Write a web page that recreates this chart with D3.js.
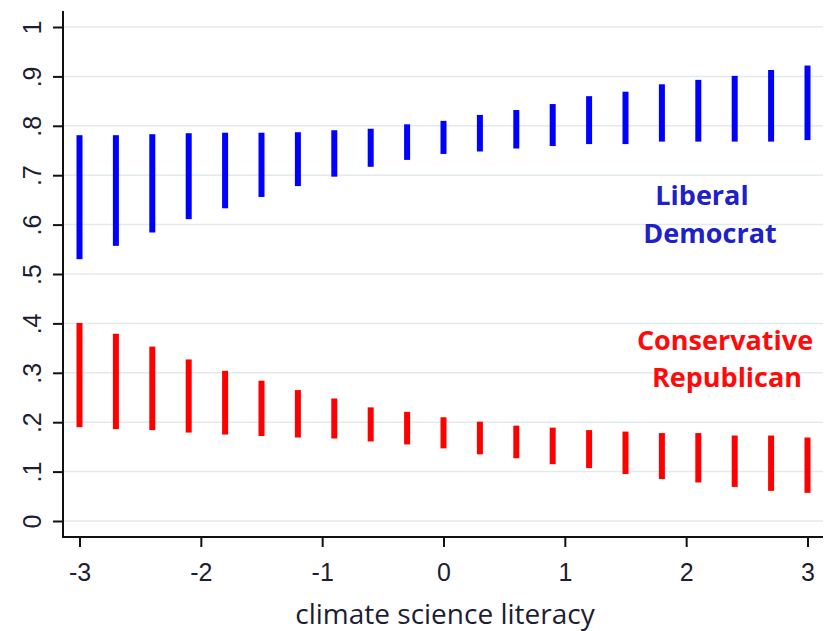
<!DOCTYPE html>
<html>
<head>
<meta charset="utf-8">
<script src="https://cdn.jsdelivr.net/npm/d3@7"></script>
<style>
  body { margin: 0; background: #fff; }
  svg { display: block; }
  .tick text { font-family: "Liberation Sans", Arial, sans-serif; font-size: 25px; fill: #1d1d33; }
</style>
</head>
<body>
<svg id="chart" width="829" height="631"></svg>
<script>
// literacy values, -3 to 3 in steps of .3
const literacy = [-3, -2.7, -2.4, -2.1, -1.8, -1.5, -1.2, -0.9, -0.6, -0.3, 0,
  0.3, 0.6, 0.9, 1.2, 1.5, 1.8, 2.1, 2.4, 2.7, 3];

// liberal democrat: lower / upper ends of each bar
const demLow = [0.530, 0.557, 0.584, 0.611, 0.633, 0.656, 0.678, 0.697, 0.717, 0.731, 0.743,
  0.748, 0.754, 0.759, 0.763, 0.763, 0.768, 0.768, 0.768, 0.768, 0.771];
const demHigh = [0.781, 0.781, 0.783, 0.785, 0.786, 0.786, 0.787, 0.791, 0.794, 0.803, 0.810,
  0.822, 0.832, 0.844, 0.860, 0.869, 0.884, 0.893, 0.901, 0.913, 0.922];

// conservative republican
const repLow = [0.190, 0.186, 0.184, 0.179, 0.175, 0.172, 0.169, 0.167, 0.161, 0.155, 0.147,
  0.135, 0.127, 0.115, 0.107, 0.095, 0.085, 0.078, 0.069, 0.061, 0.057];
const repHigh = [0.401, 0.379, 0.353, 0.327, 0.304, 0.284, 0.265, 0.248, 0.230, 0.221, 0.210,
  0.201, 0.193, 0.189, 0.184, 0.181, 0.178, 0.178, 0.173, 0.173, 0.169];

const xTicks = [-3, -2, -1, 0, 1, 2, 3];
const yTicks = [0, .1, .2, .3, .4, .5, .6, .7, .8, .9, 1];

const svg = d3.select('#chart');

// plot frame
const frame = {left: 63, right: 823, top: 11, bottom: 537};

const x = d3.scaleLinear().domain([-3, 3]).range([79.5, 807.5]);
const y = d3.scaleLinear().domain([0, 1]).range([521, 27]);

// gridlines
svg.append('g')
  .selectAll('line')
  .data(yTicks)
  .join('line')
  .attr('x1', frame.left).attr('x2', frame.right)
  .attr('y1', d => y(d)).attr('y2', d => y(d))
  .attr('stroke', '#e3eaee')
  .attr('stroke-width', 1.5);

// y axis
const yAxis = svg.append('g')
  .attr('transform', `translate(${frame.left},0)`)
  .call(d3.axisLeft(y).tickValues(yTicks).tickSize(10).tickSizeOuter(0)
    .tickFormat(d => d === 0 ? '0' : d === 1 ? '1' : d3.format('.1f')(d).replace(/^0/, '')));
yAxis.select('.domain').remove();
yAxis.selectAll('.tick line').attr('stroke', '#111').attr('stroke-width', 2);
yAxis.selectAll('.tick text')
  .attr('text-anchor', 'middle')
  .attr('transform', 'rotate(-90)')
  .attr('x', 0)
  .attr('y', -22)
  .attr('dy', null);

// x axis (plain hyphen for negatives, like the original)
const xAxis = svg.append('g')
  .attr('transform', `translate(0,${frame.bottom})`)
  .call(d3.axisBottom(x).tickValues(xTicks).tickSize(10).tickSizeOuter(0).tickFormat(d => String(d)));
xAxis.select('.domain').remove();
xAxis.selectAll('.tick line').attr('stroke', '#111').attr('stroke-width', 2);
xAxis.selectAll('.tick text').attr('y', 44).attr('dy', null);

// axis lines
svg.append('line')
  .attr('x1', frame.left).attr('x2', frame.left).attr('y1', frame.top).attr('y2', frame.bottom + 1)
  .attr('stroke', '#111').attr('stroke-width', 2);
svg.append('line')
  .attr('x1', frame.left - 1).attr('x2', frame.right).attr('y1', frame.bottom).attr('y2', frame.bottom)
  .attr('stroke', '#111').attr('stroke-width', 2);

// range bars
const series = [
  {low: demLow, high: demHigh, color: '#0000ff'},
  {low: repLow, high: repHigh, color: '#ff0000'}
];

series.forEach(s => {
  svg.append('g')
    .selectAll('rect')
    .data(literacy.map((v, i) => ({x: v, lo: s.low[i], hi: s.high[i]})))
    .join('rect')
    .attr('x', d => x(d.x) - 3)
    .attr('width', 6)
    .attr('y', d => y(d.hi))
    .attr('height', d => y(d.lo) - y(d.hi))
    .attr('fill', s.color);
});

// group labels
const labels = [
  {text: 'Liberal', x: 702, y: 205, color: '#2020c8'},
  {text: 'Democrat', x: 710, y: 243, color: '#2020c8'},
  {text: 'Conservative', x: 725, y: 350, color: '#ff0a0a'},
  {text: 'Republican', x: 727, y: 387, color: '#ff0a0a'}
];

svg.append('g')
  .selectAll('text')
  .data(labels)
  .join('text')
  .attr('x', d => d.x)
  .attr('y', d => d.y)
  .attr('text-anchor', 'middle')
  .attr('font-family', '"Open Sans", sans-serif')
  .attr('font-weight', 'bold')
  .attr('font-size', 27)
  .attr('fill', d => d.color)
  .text(d => d.text);

// x title
svg.append('text')
  .attr('x', 445)
  .attr('y', 624)
  .attr('text-anchor', 'middle')
  .attr('font-family', '"Open Sans", sans-serif')
  .attr('font-size', 28)
  .attr('fill', '#1d1d33')
  .text('climate science literacy');
</script>
</body>
</html>
